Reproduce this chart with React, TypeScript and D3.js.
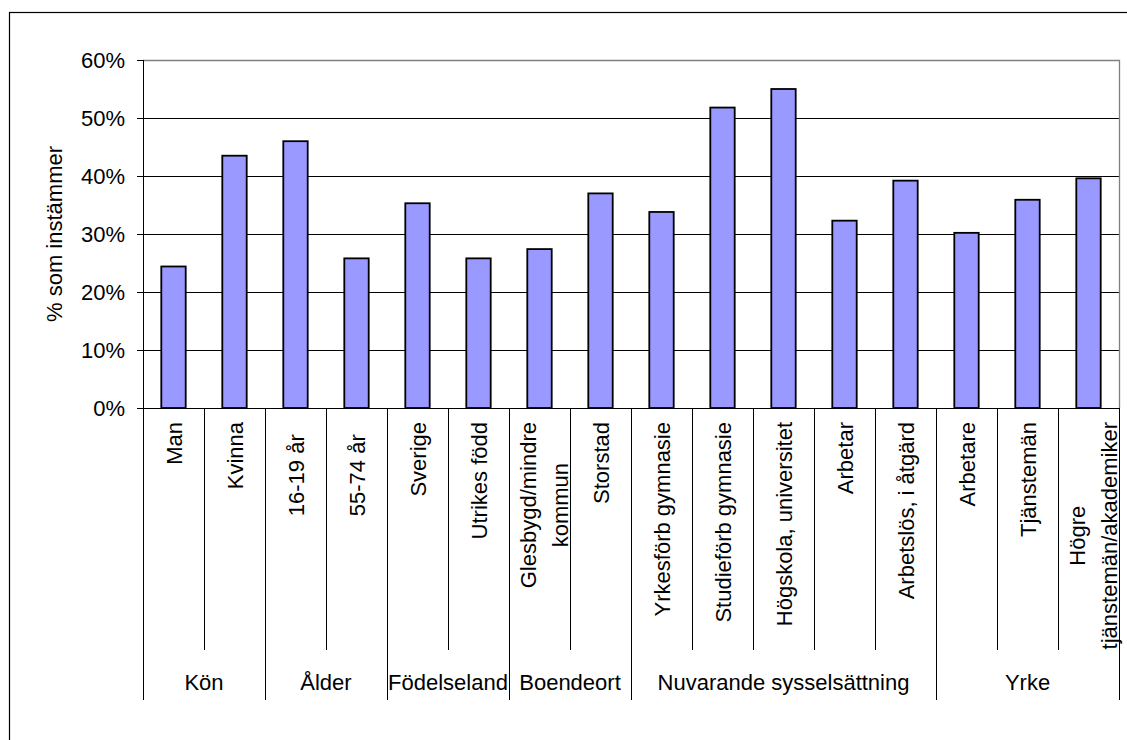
import React from "react";
import * as d3 from "d3";

const categories = [
  "Man",
  "Kvinna",
  "16-19 år  ",
  "55-74 år  ",
  "Sverige",
  "Utrikes född",
  "Glesbygd/mindre\nkommun",
  "Storstad",
  "Yrkesförb gymnasie",
  "Studieförb gymnasie",
  "Högskola, universitet",
  "Arbetar",
  "Arbetslös, i åtgärd",
  "Arbetare",
  "Tjänstemän",
  "Högre\ntjänstemän/akademiker",
];

const values = [
  0.244, 0.435, 0.46, 0.258, 0.353, 0.258, 0.274, 0.37, 0.338, 0.518, 0.55,
  0.323, 0.392, 0.302, 0.359, 0.396,
];

const groups = [
  "Kön",
  "Ålder",
  "Födelseland",
  "Boendeort",
  "Nuvarande sysselsättning",
  "Yrke",
];
const groupSizes = [2, 2, 2, 2, 5, 3];

const yTicks = [0, 0.1, 0.2, 0.3, 0.4, 0.5, 0.6];
const yTitle = "% som instämmer";

const W = 1127;
const H = 740;
const FONT = "'Liberation Sans', Arial, sans-serif";
const FS = 22;

function measure(text: string): number {
  const c = document.createElement("canvas");
  const ctx = c.getContext("2d");
  if (!ctx) return text.length * FS * 0.5;
  ctx.font = `${FS}px 'Liberation Sans', Arial, sans-serif`;
  return ctx.measureText(text).width;
}

export default function App() {
  const left = 143;
  const right = 1119;
  const top = 60;
  const bottom = 408;

  const x = d3
    .scaleBand<string>()
    .domain(categories)
    .range([left, right])
    .paddingInner(0.6)
    .paddingOuter(0.3);
  const y = d3.scaleLinear().domain([0, 0.6]).range([bottom, top]);
  const step = x.step();
  const fmt = d3.format(".0%");

  const crisp = (v: number) => Math.round(v) + 0.5;

  // group boundaries
  const bounds: number[] = [0];
  groupSizes.forEach((s) => bounds.push(bounds[bounds.length - 1] + s));

  const labelTop = 422;

  return (
    <svg
      width={W}
      height={H}
      style={{ position: "absolute", left: 0, top: 0, background: "#fff" }}
      fontFamily={FONT}
    >
      <rect x={0} y={0} width={W} height={H} fill="#fff" />
      {/* outer chart border */}
      <rect
        x={9.5}
        y={12.5}
        width={1300}
        height={900}
        fill="none"
        stroke="#000"
        strokeWidth={1.2}
      />
      {/* gridlines */}
      {yTicks
        .filter((t) => t > 0 && t < 0.6)
        .map((t) => (
          <line
            key={"g" + t}
            x1={left}
            x2={right}
            y1={crisp(y(t))}
            y2={crisp(y(t))}
            stroke="#000"
            strokeWidth={1}
          />
        ))}
      {/* plot border top/right gray */}
      <path
        d={`M${left},${crisp(top)}H${crisp(right)}V${bottom}`}
        fill="none"
        stroke="#808080"
        strokeWidth={1.3}
      />
      {/* bars */}
      {categories.map((c, i) => (
        <rect
          key={"b" + i}
          x={x(c)!}
          y={y(values[i])}
          width={x.bandwidth()}
          height={bottom - y(values[i])}
          fill="#9999FF"
          stroke="#000"
          strokeWidth={1.8}
        />
      ))}
      {/* y axis */}
      <line
        x1={crisp(left)}
        x2={crisp(left)}
        y1={top}
        y2={700}
        stroke="#000"
        strokeWidth={1}
      />
      {yTicks.map((t) => (
        <g key={"yt" + t}>
          <line
            x1={137}
            x2={left}
            y1={crisp(y(t))}
            y2={crisp(y(t))}
            stroke="#000"
            strokeWidth={1}
          />
          <text
            x={125}
            y={y(t)}
            dy="0.35em"
            textAnchor="end"
            fontSize={FS}
            fill="#000"
          >
            {fmt(t)}
          </text>
        </g>
      ))}
      <text
        transform={`translate(62, ${(top + bottom) / 2}) rotate(-90)`}
        textAnchor="middle"
        fontSize={FS}
        fill="#000"
      >
        {yTitle}
      </text>
      {/* x axis */}
      <line
        x1={left}
        x2={right}
        y1={crisp(bottom)}
        y2={crisp(bottom)}
        stroke="#000"
        strokeWidth={1}
      />
      {/* category separators */}
      {d3.range(1, categories.length + 1).map((i) => {
        const isGroup = bounds.includes(i);
        const xx = crisp(left + step * i);
        return (
          <line
            key={"sep" + i}
            x1={xx}
            x2={xx}
            y1={bottom}
            y2={isGroup ? 700 : 650}
            stroke="#000"
            strokeWidth={1}
          />
        );
      })}
      {/* category labels */}
      {categories.map((c, i) => {
        const cx = x(c)! + x.bandwidth() / 2;
        const lines = c.split("\n");
        if (lines.length === 1) {
          return (
            <text
              key={"cl" + i}
              transform={`translate(${cx + 8}, ${labelTop}) rotate(-90)`}
              textAnchor="end"
              fontSize={FS}
              fill="#000"
              style={{ whiteSpace: "pre" }}
            >
              {c}
            </text>
          );
        }
        const maxLen = Math.max(...lines.map(measure));
        const mid = labelTop + maxLen / 2;
        const offs = [-4, 28];
        return (
          <g key={"cl" + i}>
            {lines.map((ln, j) => (
              <text
                key={j}
                transform={`translate(${cx + offs[j]}, ${mid}) rotate(-90)`}
                textAnchor="middle"
                fontSize={FS}
                fill="#000"
              >
                {ln}
              </text>
            ))}
          </g>
        );
      })}
      {/* group labels */}
      {groups.map((g, gi) => {
        const gx = left + step * ((bounds[gi] + bounds[gi + 1]) / 2);
        return (
          <text
            key={"gl" + gi}
            x={gx}
            y={690}
            textAnchor="middle"
            fontSize={FS}
            fill="#000"
          >
            {g}
          </text>
        );
      })}
    </svg>
  );
}
